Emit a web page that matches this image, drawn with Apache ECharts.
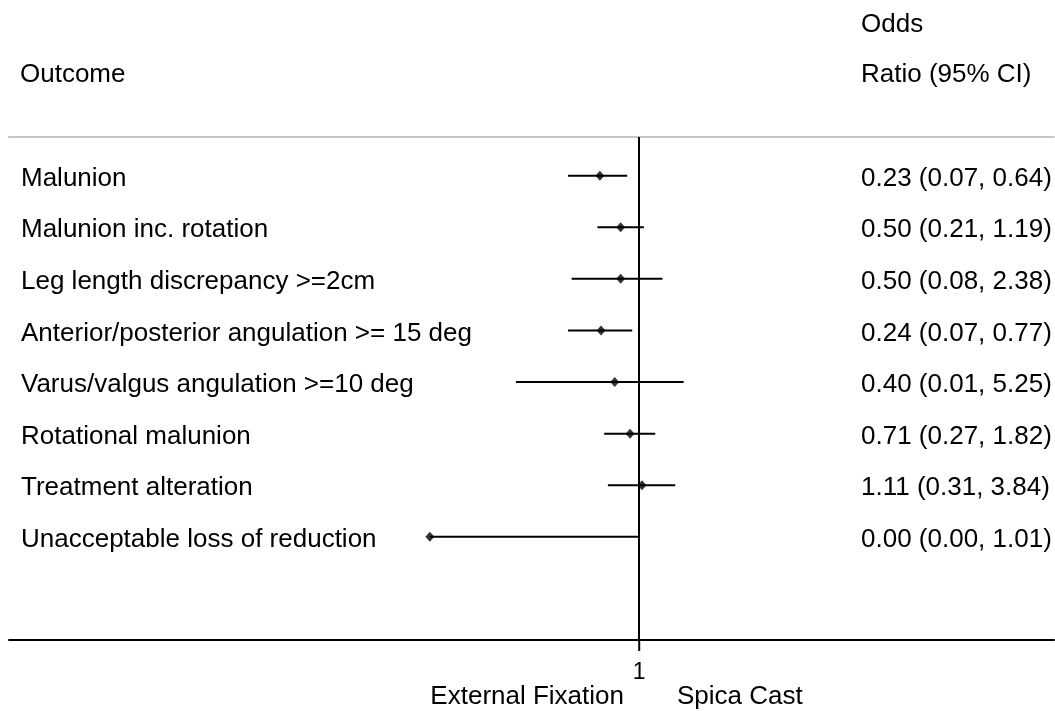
<!DOCTYPE html>
<html>
<head>
<meta charset="utf-8">
<title>Odds ratios: External Fixation vs Spica Cast</title>
<script src="https://cdn.jsdelivr.net/npm/echarts@6/dist/echarts.min.js"></script>
<style>
  html, body { margin: 0; padding: 0; background: #ffffff; }
  #chart { width: 1055px; height: 711px; }
</style>
</head>
<body>
<div id="chart"></div>
<script>
// Outcomes, listed top to bottom
const outcomes = [
  'Malunion',
  'Malunion inc. rotation',
  'Leg length discrepancy >=2cm',
  'Anterior/posterior angulation >= 15 deg',
  'Varus/valgus angulation >=10 deg',
  'Rotational malunion',
  'Treatment alteration',
  'Unacceptable loss of reduction'
];
// Odds ratio point estimates and 95% confidence limits
const oddsRatio = [0.23, 0.50, 0.50, 0.24, 0.40, 0.71, 1.11, 0.0004];
const ciLower   = [0.07, 0.21, 0.08, 0.07, 0.01, 0.27, 0.31, 0.0004];
const ciUpper   = [0.64, 1.19, 2.38, 0.77, 5.25, 1.82, 3.84, 1.01];
// Row positions on the vertical axis (1 = top row)
const rows = [1, 2, 3, 4, 5, 6, 7, 8];
// Reference line / tick on the ratio axis
const nullValue = 1;
const xTicks = [1];
const favourLeft = 'External Fixation';
const favourRight = 'Spica Cast';

const FONT = '"Liberation Sans", Arial, Helvetica, sans-serif';
const fmt = v => v.toFixed(2);

const ciPoints = rows.map((r, i) => [ciLower[i], ciUpper[i], r]);
const estPoints = rows.map((r, i) => [oddsRatio[i], r]);
const rowText = rows.map((r, i) => [
  nullValue, r, outcomes[i],
  fmt(oddsRatio[i]) + ' (' + fmt(ciLower[i]) + ', ' + fmt(ciUpper[i]) + ')'
]);

const chart = echarts.init(document.getElementById('chart'), null, { renderer: 'canvas' });

const xRange = { min: 5.9e-11, max: 5.4e6 };
const yRange = { min: 0.25, max: 10, inverse: true };

chart.setOption({
  backgroundColor: '#ffffff',
  animation: false,
  grid: { left: 9, right: 1, top: 137, bottom: 71, containLabel: false },
  xAxis: [
    {
      type: 'log',
      logBase: 10,
      min: xRange.min,
      max: xRange.max,
      position: 'bottom',
      axisLine: { show: true, lineStyle: { color: '#000000', width: 2 } },
      axisTick: { show: false },
      axisLabel: {
        show: true, customValues: xTicks, margin: 21,
        formatter: v => String(Math.round(v)),
        color: '#000000', fontFamily: FONT, fontSize: 23
      },
      splitLine: { show: false },
      minorTick: { show: false }
    },
    {
      type: 'log',
      logBase: 10,
      min: xRange.min,
      max: xRange.max,
      position: 'top',
      axisLine: { show: true, lineStyle: { color: '#c6c6c6', width: 2 } },
      axisTick: { show: false },
      axisLabel: { show: false },
      splitLine: { show: false }
    }
  ],
  yAxis: {
    type: 'value',
    min: yRange.min, max: yRange.max, inverse: yRange.inverse,
    axisLine: { show: false },
    axisTick: { show: false },
    axisLabel: { show: false },
    splitLine: { show: false }
  },
  graphic: [
    { type: 'text', left: 20, top: 62,
      style: { text: 'Outcome', fill: '#000000', font: '26px ' + FONT } },
    { type: 'text', left: 861, top: 12,
      style: { text: 'Odds', fill: '#000000', font: '26px ' + FONT } },
    { type: 'text', left: 861, top: 62,
      style: { text: 'Ratio (95% CI)', fill: '#000000', font: '26px ' + FONT } },
    { type: 'text', right: 1055 - 624, top: 684,
      style: { text: favourLeft, fill: '#000000', font: '26px ' + FONT } },
    { type: 'text', left: 677, top: 684,
      style: { text: favourRight, fill: '#000000', font: '26px ' + FONT } }
  ],
  series: [
    {
      // outcome names (left column) and estimate text (right column) for each row
      type: 'custom',
      silent: true,
      clip: false,
      data: rowText,
      encode: { x: 0, y: 1 },
      renderItem: (params, api) => {
        const cs = params.coordSys;
        const y = api.coord([api.value(0), api.value(1)])[1] + 3;
        const i = params.dataIndex;
        return {
          type: 'group',
          children: [
            { type: 'text', x: cs.x + 12, y: y,
              style: { text: rowText[i][2], fill: '#000000', font: '26px ' + FONT,
                       align: 'left', verticalAlign: 'middle' } },
            { type: 'text', x: cs.x + cs.width - 193, y: y,
              style: { text: rowText[i][3], fill: '#000000', font: '26px ' + FONT,
                       align: 'left', verticalAlign: 'middle' } }
          ]
        };
      },
      z: 2
    },
    {
      // confidence intervals
      type: 'custom',
      data: ciPoints,
      encode: { x: [0, 1], y: 2 },
      renderItem: (params, api) => {
        const a = api.coord([api.value(0), api.value(2)]);
        const b = api.coord([api.value(1), api.value(2)]);
        return {
          type: 'line',
          shape: { x1: a[0], y1: a[1], x2: b[0], y2: b[1] },
          style: { stroke: '#000000', lineWidth: 2 }
        };
      },
      z: 3
    },
    {
      // tick mark below the axis at the reference value
      type: 'custom',
      clip: false,
      silent: true,
      data: [[nullValue, yRange.max]],
      renderItem: (params, api) => {
        const p = api.coord([api.value(0), api.value(1)]);
        return {
          type: 'line',
          shape: { x1: p[0], y1: p[1], x2: p[0], y2: p[1] + 11 },
          style: { stroke: '#000000', lineWidth: 2 }
        };
      },
      z: 4
    },
    {
      // point estimates
      type: 'scatter',
      data: estPoints,
      symbol: 'diamond',
      symbolSize: [9, 10],
      itemStyle: { color: '#000000' },
      z: 5,
      markLine: {
        silent: true,
        symbol: 'none',
        label: { show: false },
        lineStyle: { color: '#000000', width: 2, type: 'solid' },
        data: [{ xAxis: nullValue }]
      }
    }
  ]
});
</script>
</body>
</html>
